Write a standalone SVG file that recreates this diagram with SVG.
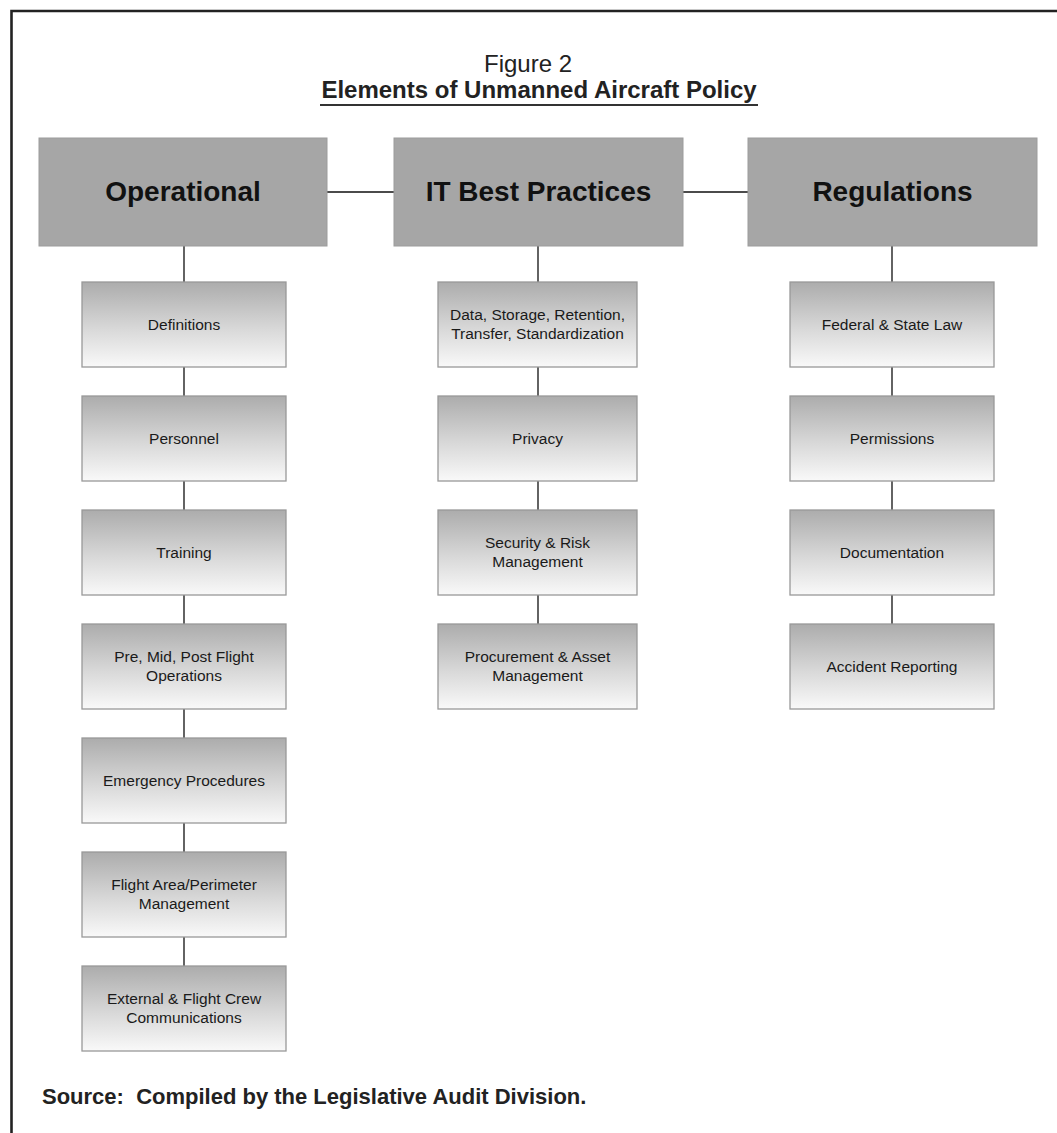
<svg xmlns="http://www.w3.org/2000/svg" width="1057" height="1133" viewBox="0 0 1057 1133">
<defs>
<linearGradient id="g" x1="0" y1="0" x2="0" y2="1">
<stop offset="0" stop-color="#acacac"/>
<stop offset="0.55" stop-color="#d8d8d8"/>
<stop offset="1" stop-color="#f9f9f9"/>
</linearGradient>
</defs>
<style>
.hdr{fill:#a6a6a6;stroke:#9c9c9c;stroke-width:1}
.box{fill:url(#g);stroke:#999;stroke-width:1.3}
.ht{font-family:"Liberation Sans",Arial,sans-serif;font-weight:bold;font-size:28px;fill:#111;text-anchor:middle}
.ct{font-family:"Liberation Sans",Arial,sans-serif;font-size:15.5px;fill:#1a1a1a;text-anchor:middle}
.cn{stroke:#111;stroke-width:1.3;fill:none}
</style>
<rect width="1057" height="1133" fill="#fff"/>
<path d="M11.5,1133 V11 H1057" fill="none" stroke="#222" stroke-width="2.6"/>
<text x="528" y="72" font-family="'Liberation Sans',Arial,sans-serif" font-size="24" fill="#222" text-anchor="middle">Figure 2</text>
<text x="539" y="98" font-family="'Liberation Sans',Arial,sans-serif" font-size="24" font-weight="bold" fill="#222" text-anchor="middle">Elements of Unmanned Aircraft Policy</text>
<line x1="320" y1="105" x2="758" y2="105" stroke="#333" stroke-width="1.8"/>

<g id="connectors">
<path class="cn" d="M327,192 H394 M683,192 H748"/>
<path class="cn" d="M184,246 V282 M184,367 V396 M184,481 V510 M184,595 V624 M184,709 V738 M184,823 V852 M184,937 V966"/>
<path class="cn" d="M538,246 V282 M538,367 V396 M538,481 V510 M538,595 V624"/>
<path class="cn" d="M892,246 V282 M892,367 V396 M892,481 V510 M892,595 V624"/>
</g>

<g id="operational"><rect class="hdr" x="39" y="138" width="288" height="108"/><text class="ht" x="183" y="201">Operational</text></g>
<g id="it-best-practices"><rect class="hdr" x="394" y="138" width="289" height="108"/><text class="ht" x="538.5" y="201">IT Best Practices</text></g>
<g id="regulations"><rect class="hdr" x="748" y="138" width="289" height="108"/><text class="ht" x="892.5" y="201">Regulations</text></g>

<g id="definitions"><rect class="box" x="82" y="282" width="204" height="85"/><text class="ct" x="184" y="330">Definitions</text></g>
<g id="personnel"><rect class="box" x="82" y="396" width="204" height="85"/><text class="ct" x="184" y="444">Personnel</text></g>
<g id="training"><rect class="box" x="82" y="510" width="204" height="85"/><text class="ct" x="184" y="558">Training</text></g>
<g id="flight-operations"><rect class="box" x="82" y="624" width="204" height="85"/><text class="ct" x="184" y="662">Pre, Mid, Post Flight</text><text class="ct" x="184" y="681">Operations</text></g>
<g id="emergency"><rect class="box" x="82" y="738" width="204" height="85"/><text class="ct" x="184" y="786">Emergency Procedures</text></g>
<g id="flight-area"><rect class="box" x="82" y="852" width="204" height="85"/><text class="ct" x="184" y="890">Flight Area/Perimeter</text><text class="ct" x="184" y="909">Management</text></g>
<g id="communications"><rect class="box" x="82" y="966" width="204" height="85"/><text class="ct" x="184" y="1004">External &amp; Flight Crew</text><text class="ct" x="184" y="1023">Communications</text></g>

<g id="data"><rect class="box" x="438" y="282" width="199" height="85"/><text class="ct" x="537.5" y="320">Data, Storage, Retention,</text><text class="ct" x="537.5" y="339">Transfer, Standardization</text></g>
<g id="privacy"><rect class="box" x="438" y="396" width="199" height="85"/><text class="ct" x="537.5" y="444">Privacy</text></g>
<g id="security"><rect class="box" x="438" y="510" width="199" height="85"/><text class="ct" x="537.5" y="548">Security &amp; Risk</text><text class="ct" x="537.5" y="567">Management</text></g>
<g id="procurement"><rect class="box" x="438" y="624" width="199" height="85"/><text class="ct" x="537.5" y="662">Procurement &amp; Asset</text><text class="ct" x="537.5" y="681">Management</text></g>

<g id="law"><rect class="box" x="790" y="282" width="204" height="85"/><text class="ct" x="892" y="330">Federal &amp; State Law</text></g>
<g id="permissions"><rect class="box" x="790" y="396" width="204" height="85"/><text class="ct" x="892" y="444">Permissions</text></g>
<g id="documentation"><rect class="box" x="790" y="510" width="204" height="85"/><text class="ct" x="892" y="558">Documentation</text></g>
<g id="accident"><rect class="box" x="790" y="624" width="204" height="85"/><text class="ct" x="892" y="672">Accident Reporting</text></g>

<text x="42" y="1104" font-family="'Liberation Sans',Arial,sans-serif" font-size="22" font-weight="bold" fill="#222" xml:space="preserve">Source:  Compiled by the Legislative Audit Division.</text>
</svg>
